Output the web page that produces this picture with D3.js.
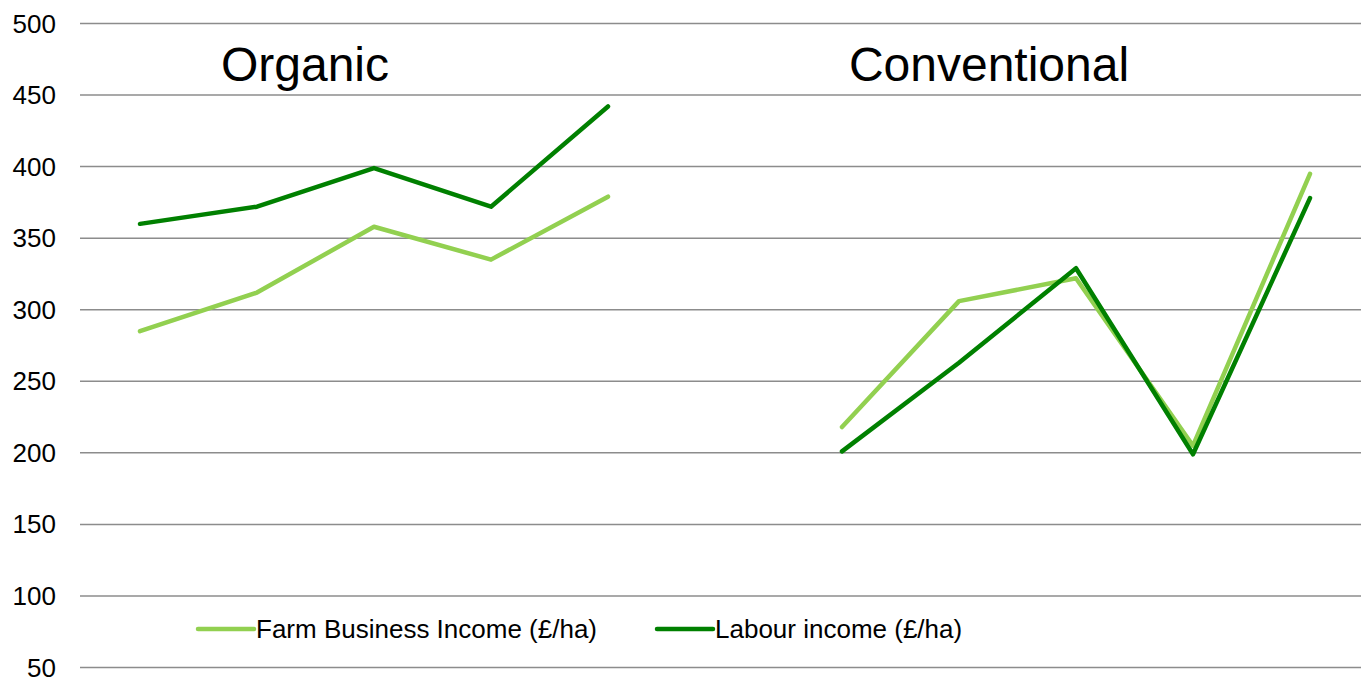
<!DOCTYPE html>
<html>
<head>
<meta charset="utf-8">
<script src="https://cdn.jsdelivr.net/npm/d3@7"></script>
<style>
	body { margin: 0; background: #fff; }
	svg { display: block; font-family: "Liberation Sans", Arial, sans-serif; }
</style>
</head>
<body>
<div id="chart"></div>
<script>
// 11 slots: 5 organic, 1 gap, 5 conventional
var categories = ["o1", "o2", "o3", "o4", "o5", "gap", "c1", "c2", "c3", "c4", "c5"];
var farmBusinessIncome = [285, 312, 358, 335, 379, null, 218, 306, 322, 205, 395];
var labourIncome = [360, 372, 399, 372, 442, null, 201, 263, 329, 199, 378];
var yTicks = [50, 100, 150, 200, 250, 300, 350, 400, 450, 500];
var groupTitles = [
	{ text: "Organic", from: "o1", to: "o5", offset: -69 },
	{ text: "Conventional", from: "c1", to: "c5", offset: -87 }
];
var seriesList = [
	{ name: "Farm Business Income (£/ha)", values: farmBusinessIncome, color: "#92D050" },
	{ name: "Labour income (£/ha)", values: labourIncome, color: "#008000" }
];

var width = 1361, height = 677;

var svg = d3.select("#chart").append("svg")
	.attr("width", width)
	.attr("height", height);

var x = d3.scaleBand()
	.domain(categories)
	.range([81.5, 1368.5]);

var y = d3.scaleLinear()
	.domain([50, 500])
	.range([667.5, 23.5]);

// gridlines
svg.append("g")
	.selectAll("line")
	.data(yTicks)
	.enter()
	.append("line")
	.attr("x1", 80)
	.attr("x2", width)
	.attr("y1", function(d) { return y(d); })
	.attr("y2", function(d) { return y(d); })
	.attr("stroke", "#8c8c8c")
	.attr("stroke-width", 1.5);

// y labels
svg.append("g")
	.selectAll("text")
	.data(yTicks)
	.enter()
	.append("text")
	.attr("x", 56)
	.attr("y", function(d) { return y(d); })
	.attr("dy", "0.35em")
	.attr("text-anchor", "end")
	.attr("font-size", 26)
	.attr("fill", "#000")
	.text(function(d) { return d; });

var line = d3.line()
	.defined(function(d) { return d != null; })
	.x(function(d, i) { return x(categories[i]) + x.bandwidth() / 2; })
	.y(function(d) { return y(d); });

svg.append("g")
	.selectAll("path")
	.data(seriesList)
	.enter()
	.append("path")
	.attr("d", function(d) { return line(d.values); })
	.attr("fill", "none")
	.attr("stroke", function(d) { return d.color; })
	.attr("stroke-width", 4.5)
	.attr("stroke-linejoin", "round")
	.attr("stroke-linecap", "round");

// group titles
svg.append("g")
	.selectAll("text")
	.data(groupTitles)
	.enter()
	.append("text")
	.attr("x", function(d) {
		return (x(d.from) + x(d.to) + x.bandwidth()) / 2 + d.offset;
	})
	.attr("y", 81)
	.attr("text-anchor", "middle")
	.attr("font-size", 48)
	.attr("fill", "#000")
	.text(function(d) { return d.text; });

// legend
var legendX = [198, 657];
var legend = svg.append("g")
	.selectAll("g")
	.data(seriesList)
	.enter()
	.append("g")
	.attr("transform", function(d, i) { return "translate(" + legendX[i] + ",629)"; });

legend.append("line")
	.attr("x1", 0)
	.attr("x2", 56)
	.attr("stroke", function(d) { return d.color; })
	.attr("stroke-width", 4.5)
	.attr("stroke-linecap", "round");

legend.append("text")
	.attr("x", 58)
	.attr("dy", "0.35em")
	.attr("font-size", 26)
	.attr("fill", "#000")
	.text(function(d) { return d.name; });
</script>
</body>
</html>
